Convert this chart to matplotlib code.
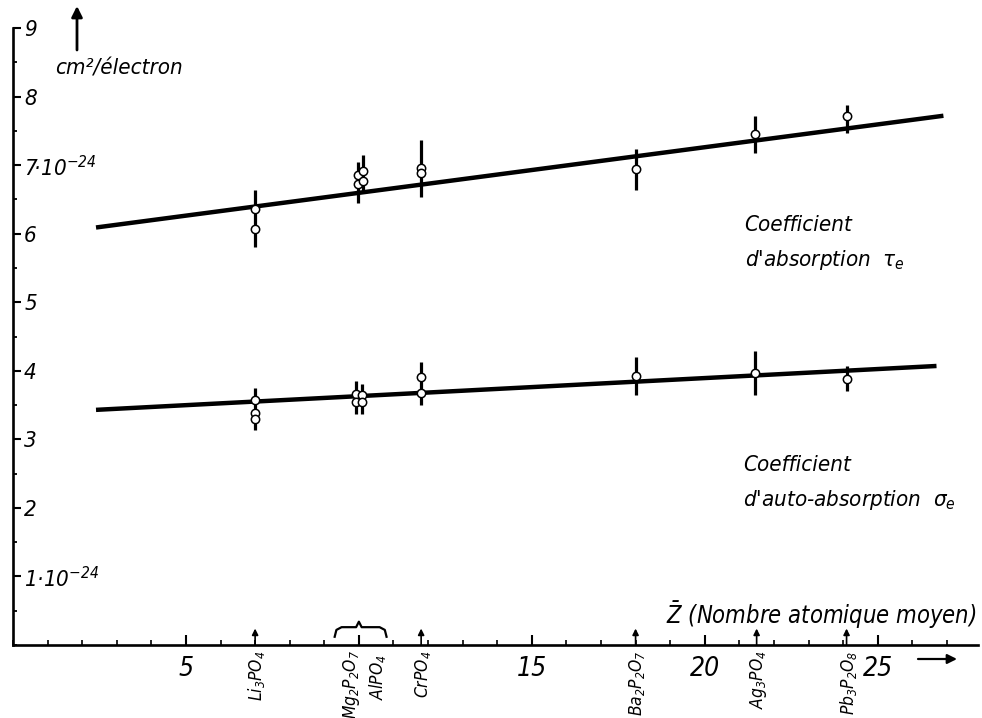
import matplotlib.pyplot as plt
from matplotlib import font_manager
from matplotlib.ticker import MultipleLocator

# technical lettering -> narrow italic font if installed
names = {f.name for f in font_manager.fontManager.ttflist}
cond = {f.name for f in font_manager.fontManager.ttflist if f.stretch == 'condensed'}
FONT = 'Liberation Sans Narrow' if 'Liberation Sans Narrow' in names else 'DejaVu Sans'
STRETCH = 'condensed' if FONT in cond else 'normal'

plt.rcParams['font.family'] = [FONT, 'DejaVu Sans']
plt.rcParams['font.style'] = 'italic'
plt.rcParams['font.stretch'] = STRETCH
plt.rcParams['mathtext.fontset'] = 'custom'
spec = FONT + ':italic:stretch=' + STRETCH
plt.rcParams['mathtext.rm'] = spec
plt.rcParams['mathtext.it'] = spec
plt.rcParams['mathtext.sf'] = spec
plt.rcParams['mathtext.bf'] = spec + ':bold'

"""Data read off the figure (units of 1e-24 cm2/electron)"""

# absorption coefficient tau_e
tau_x   = [7.0, 7.0, 9.97, 9.97, 10.13, 10.13, 11.8, 11.8, 18.0, 21.45, 24.1]
tau_y   = [6.36, 6.07, 6.85, 6.72, 6.91, 6.77, 6.96, 6.88, 6.95, 7.45, 7.71]
tau_err_x  = [7.0, 9.97, 10.13, 11.8, 18.0, 21.45, 24.1]
tau_err_lo = [5.80, 6.45, 6.61, 6.54, 6.64, 7.18, 7.47]
tau_err_hi = [6.64, 7.05, 7.15, 7.37, 7.23, 7.71, 7.88]
tau_fit_x = [2.4, 26.9]
tau_fit_y = [6.09, 7.72]

# self-absorption coefficient sigma_e
sig_x   = [7.0, 7.0, 7.0, 9.93, 9.93, 10.1, 10.1, 11.8, 11.8, 18.0, 21.45, 24.1]
sig_y   = [3.58, 3.39, 3.30, 3.66, 3.55, 3.65, 3.55, 3.91, 3.68, 3.93, 3.97, 3.88]
sig_err_x  = [7.0, 9.93, 10.1, 11.8, 18.0, 21.45, 24.1]
sig_err_lo = [3.14, 3.37, 3.37, 3.50, 3.64, 3.64, 3.71]
sig_err_hi = [3.75, 3.85, 3.80, 4.13, 4.20, 4.29, 4.07]
sig_fit_x = [2.4, 26.7]
sig_fit_y = [3.43, 4.07]

# compounds and their mean atomic number
compounds  = [r'$Li_3PO_4$', r'$Mg_2P_2O_7$', r'$AlPO_4$', r'$CrPO_4$',
              r'$Ba_2P_2O_7$', r'$Ag_3PO_4$', r'$Pb_3P_2O_8$']
compound_z = [7.0, 10.0, 10.0, 11.8, 18.0, 21.5, 24.1]

ytick_vals   = [1, 2, 3, 4, 5, 6, 7, 8, 9]
ytick_labels = [r'$1·10^{-24}$', '2', '3', '4', '5', '6', r'$7·10^{-24}$', '8', '9']
xtick_vals   = [5, 10, 15, 20, 25]
xtick_labels = ['5', '', '15', '20', '25']

"""Plot"""

fig = plt.figure(figsize=(9.82, 7.18), dpi=100)
ax = fig.add_axes([13/982, 73/718, 965/982, 617/718])
ax.set_xlim(0, 27.9)
ax.set_ylim(0, 9)

for s in ['top', 'right']:
    ax.spines[s].set_visible(False)
for s in ['left', 'bottom']:
    ax.spines[s].set_linewidth(1.9)

# fitted lines
ax.plot(tau_fit_x, tau_fit_y, color='black', lw=3.2, solid_capstyle='butt')
ax.plot(sig_fit_x, sig_fit_y, color='black', lw=3.2, solid_capstyle='butt')

# error bars + measured points
ax.vlines(tau_err_x, tau_err_lo, tau_err_hi, color='black', lw=2.3)
ax.vlines(sig_err_x, sig_err_lo, sig_err_hi, color='black', lw=2.3)
ax.plot(tau_x, tau_y, 'o', ms=6, mfc='white', mec='black', mew=1.1, zorder=5)
ax.plot(sig_x, sig_y, 'o', ms=6, mfc='white', mec='black', mew=1.1, zorder=5)

# ticks: labels of y axis sit inside the frame
ax.set_yticks(ytick_vals, ytick_labels)
ax.yaxis.set_minor_locator(MultipleLocator(0.5))
ax.tick_params(axis='y', which='major', direction='in', length=6, width=1.5,
               pad=-8, labelsize=16)
ax.tick_params(axis='y', which='minor', direction='in', length=3, width=1.3)
for lbl in ax.get_yticklabels():
    lbl.set_horizontalalignment('left')

ax.set_xticks(xtick_vals, xtick_labels)
ax.xaxis.set_minor_locator(MultipleLocator(1))
ax.tick_params(axis='x', which='major', direction='in', length=7, width=1.5,
               pad=8, labelsize=19)
ax.tick_params(axis='x', which='minor', direction='in', length=3.5, width=1.2)

# compound markers under the axis
for name, z in zip(compounds, compound_z):
    if name in (r'$Mg_2P_2O_7$', r'$AlPO_4$'):
        continue
    ax.annotate('', xy=(z, 0.24), xytext=(z, 0), annotation_clip=False,
                arrowprops=dict(arrowstyle='-|>', color='black', lw=1.2,
                                mutation_scale=9, shrinkA=0, shrinkB=0))
    ax.text(z + 0.05, -0.08, name, rotation=90, ha='center', va='top',
            fontsize=12.5, clip_on=False)

# Mg2P2O7 and AlPO4 share Z = 10 -> brace
zb = compound_z[1]
bx = [zb - 0.7, zb - 0.65, zb - 0.5, zb - 0.08, zb, zb + 0.08, zb + 0.6, zb + 0.75, zb + 0.8]
by = [0.12, 0.22, 0.26, 0.26, 0.34, 0.26, 0.26, 0.22, 0.12]
ax.plot(bx, by, color='black', lw=1.6, clip_on=False)
ax.text(zb - 0.2, -0.07, compounds[1], rotation=90, ha='center', va='top',
        fontsize=12.5, clip_on=False)
ax.text(zb + 0.55, -0.14, compounds[2], rotation=90, ha='center', va='top',
        fontsize=12.5, clip_on=False)

# axis titles
ax.text(27.85, 0.2, r'$\bar{Z}$ (Nombre atomique moyen)', ha='right', va='bottom',
        fontsize=17)
ax.annotate('', xy=(957/982, 59/718), xytext=(918/982, 59/718),
            xycoords='figure fraction',
            arrowprops=dict(arrowstyle='-|>', color='black', lw=1.6,
                            mutation_scale=14, shrinkA=0, shrinkB=0))
ax.annotate('', xy=(77/982, 1 - 6/718), xytext=(77/982, 1 - 50/718),
            xycoords='figure fraction',
            arrowprops=dict(arrowstyle='-|>', color='black', lw=2.0,
                            mutation_scale=16, shrinkA=0, shrinkB=0))
fig.text(55/982, 1 - 68/718, 'cm²/électron', ha='left', va='center', fontsize=16)

# curve labels
ax.text(21.15, 6.12, 'Coefficient', fontsize=16, va='center')
ax.text(21.15, 5.62, r"d'absorption  $\tau_e$", fontsize=16, va='center')
ax.text(21.1, 2.63, 'Coefficient', fontsize=16, va='center')
ax.text(21.1, 2.12, r"d'auto-absorption  $\sigma_e$", fontsize=16, va='center')

plt.savefig('out.png', dpi=100)
